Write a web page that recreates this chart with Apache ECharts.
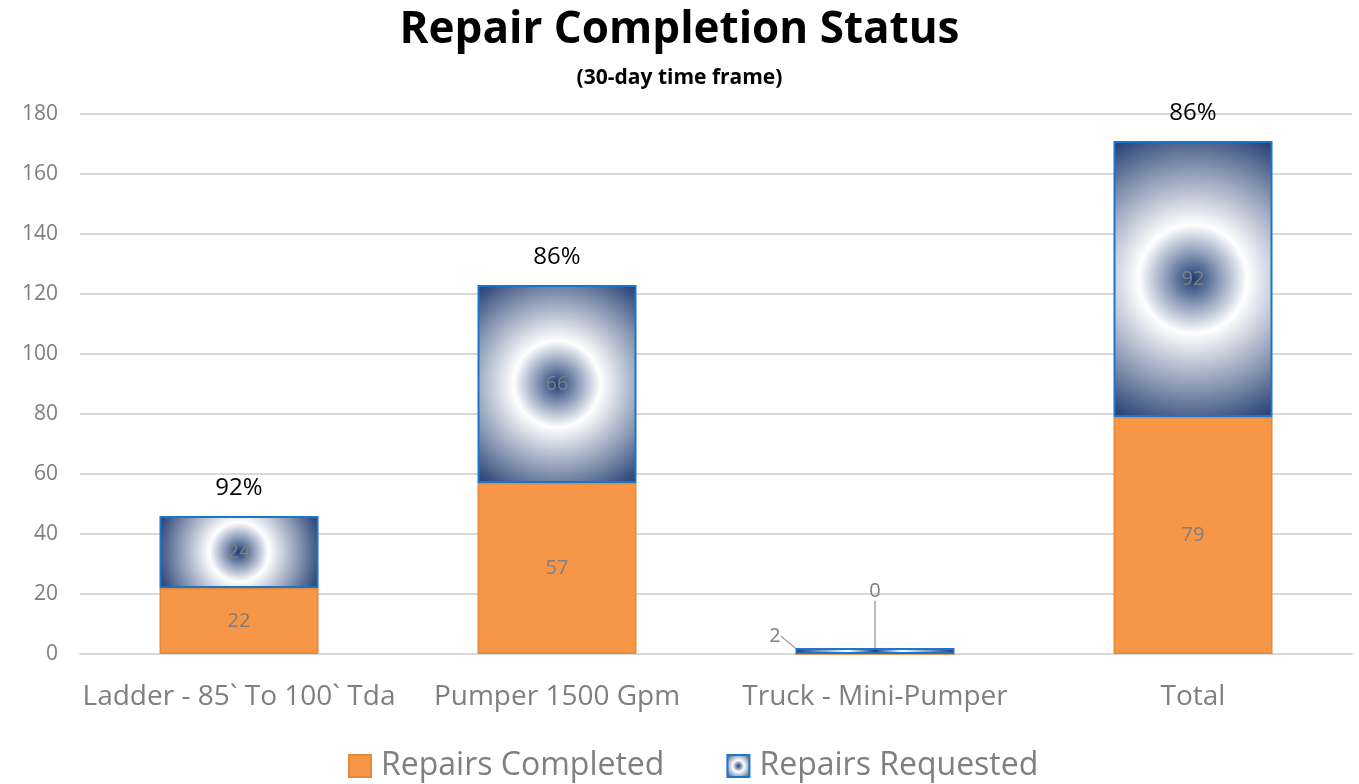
<!DOCTYPE html>
<html>
<head>
<meta charset="utf-8">
<script src="https://cdn.jsdelivr.net/npm/echarts@6/dist/echarts.min.js"></script>
<style>
  html, body { margin: 0; padding: 0; background: #fff; }
  #main { width: 1359px; height: 784px; }
</style>
</head>
<body>
<div id="main"></div>
<script>
// data
const categories = ["Ladder - 85` To 100` Tda", "Pumper 1500 Gpm", "Truck - Mini-Pumper", "Total"];
const completed = [22, 57, 0, 79];
const requested = [24, 66, 2, 92];
const percentLabels = ["92%", "86%", "", "86%"];
const yTicks = { min: 0, max: 180, interval: 20 };

const FONT = "'Open Sans', 'Noto Sans', sans-serif";
const GREY = "#7f7f7f";

// radial fill like Excel's "from center" path gradient.
// zrender scales r by the shorter side of the bar, so stretch it
// to reach the corners of each bar (aspect = height / width)
function radialFill(aspect) {
  const w = 1, h = aspect;
  const r = Math.sqrt(w * w + h * h) / 2 / Math.min(w, h);
  return {
    type: "radial",
    x: 0.5,
    y: 0.5,
    r: r,
    colorStops: [
      { offset: 0, color: "#1f3d75" },
      { offset: 0.34, color: "#ffffff" },
      { offset: 1, color: "#1f3a6e" },
    ],
  };
}

var chartDom = document.getElementById("main");
var myChart = echarts.init(chartDom);
var option;

const grid = { left: 80, right: 7, top: 114, bottom: 130 };
const plotH = 784 - grid.top - grid.bottom;
const plotW = 1359 - grid.left - grid.right;
const barW = plotW / categories.length / 2;

option = {
  backgroundColor: "#ffffff",
  animation: false,
  title: [
    {
      text: "Repair Completion Status",
      left: "center",
      top: 3,
      textStyle: {
        fontFamily: FONT,
        fontWeight: "bold",
        fontSize: 44,
        color: "#000",
      },
    },
    {
      text: "(30-day time frame)",
      left: "center",
      top: 63,
      textStyle: {
        fontFamily: FONT,
        fontWeight: "bold",
        fontSize: 21,
        color: "#000",
      },
    },
  ],
  legend: {
    data: [
      { name: "Repairs Completed" },
      {
        name: "Repairs Requested",
        itemStyle: { color: radialFill(1), borderColor: "#1a75cf", borderWidth: 2 },
      },
    ],
    icon: "rect",
    bottom: -3,
    left: 343,
    itemWidth: 22,
    itemHeight: 22,
    itemGap: 62,
    textStyle: {
      fontFamily: FONT,
      fontSize: 32,
      color: GREY,
      padding: [0, 0, 0, 5],
    },
  },
  grid: grid,
  xAxis: {
    type: "category",
    data: categories,
    axisTick: { show: false },
    axisLine: { lineStyle: { color: "#d9d9d9", width: 2 } },
    axisLabel: {
      interval: 0,
      fontFamily: FONT,
      fontSize: 28,
      color: GREY,
      margin: 29,
    },
  },
  yAxis: {
    type: "value",
    min: yTicks.min,
    max: yTicks.max,
    interval: yTicks.interval,
    axisLine: { show: false },
    axisTick: { show: false },
    splitLine: { lineStyle: { color: "#d9d9d9", width: 2 } },
    axisLabel: {
      fontFamily: FONT,
      fontSize: 21,
      color: GREY,
      margin: 22,
    },
  },
  series: [
    {
      name: "Repairs Completed",
      type: "bar",
      stack: "repairs",
      barWidth: "50%",
      data: completed,
      itemStyle: {
        color: "#f79646",
        borderColor: "#e3893f",
        borderWidth: 1.5,
      },
      label: {
        show: true,
        position: "inside",
        fontFamily: FONT,
        fontSize: 20,
        color: GREY,
      },
      labelLine: {
        show: true,
        lineStyle: { color: "#a6a6a6", width: 1.5 },
      },
      labelLayout: function (params) {
        // the zero bar of the mini-pumper gets its label pulled up
        if (params.dataIndex === 2) {
          return { dx: 0, dy: -63 };
        }
      },
    },
    {
      name: "Repairs Requested",
      type: "bar",
      stack: "repairs",
      barWidth: "50%",
      data: requested,
      itemStyle: {
        color: function (p) {
          const h = (p.value / (yTicks.max - yTicks.min)) * plotH;
          return radialFill(h / barW);
        },
        borderColor: "#1a75cf",
        borderWidth: 2,
      },
      label: {
        show: true,
        position: "inside",
        fontFamily: FONT,
        fontSize: 20,
        color: GREY,
      },
      labelLine: {
        show: true,
        lineStyle: { color: "#a6a6a6", width: 1.5 },
      },
      labelLayout: function (params) {
        if (params.dataIndex === 2) {
          return { dx: -100, dy: -15 };
        }
      },
    },
    {
      // empty stacked series carrying the completion percentage on top
      name: "pct",
      type: "bar",
      stack: "repairs",
      barWidth: "50%",
      data: [0, 0, 0, 0],
      itemStyle: { color: "transparent" },
      label: {
        show: true,
        position: "top",
        distance: 16,
        fontFamily: FONT,
        fontSize: 24,
        color: "#000",
        formatter: function (p) {
          return percentLabels[p.dataIndex];
        },
      },
    },
  ],
};

option && myChart.setOption(option);
</script>
</body>
</html>
